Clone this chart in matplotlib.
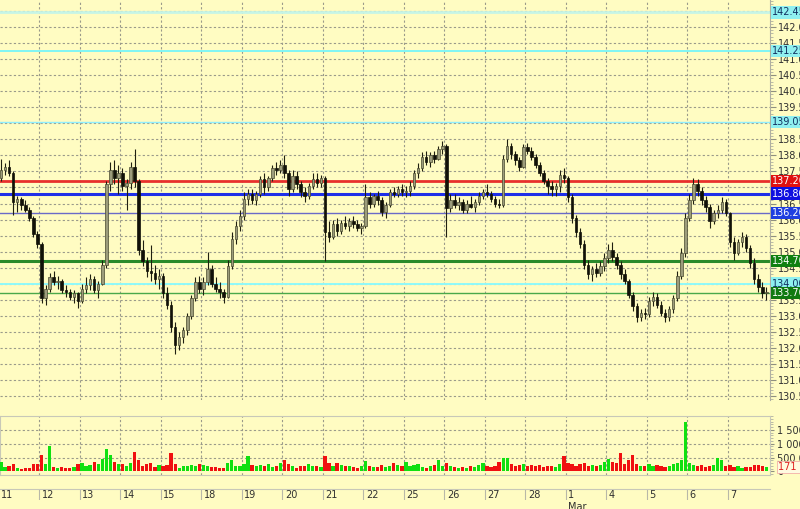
import numpy as np
import matplotlib
matplotlib.use("Agg")
import matplotlib.pyplot as plt
import matplotlib.transforms as mtransforms
from matplotlib.ticker import MultipleLocator, FuncFormatter

# day labels along the bottom strip (10 bars per day)
days = ['11', '12', '13', '14', '15', '18', '19', '20', '21', '22',
        '25', '26', '27', '28', '1', '4', '5', '6', '7']
bars_per_day = 10

# OHLC, one row per day
opens = [
    137.30, 137.55, 137.65, 137.45, 136.55, 136.65, 136.45, 136.30, 136.05, 135.55,
    135.25, 133.55, 133.85, 134.20, 134.05, 134.10, 133.80, 133.75, 133.60, 133.70,
    133.45, 133.85, 133.95, 134.15, 133.80, 134.00, 134.60, 137.10, 137.55, 137.30,
    137.45, 137.05, 137.15, 137.65, 137.20, 135.05, 134.70, 134.40, 134.35, 134.15,
    134.25, 133.70, 133.35, 132.65, 132.10, 132.35, 132.55, 133.00, 133.55, 134.05,
    133.85, 134.05, 134.45, 134.00, 133.85, 133.75, 133.60, 134.55, 135.40, 135.80,
    136.10, 136.65, 136.80, 136.60, 136.80, 137.25, 137.00, 137.30, 137.60, 137.55,
    137.70, 137.45, 136.95, 137.35, 137.10, 136.85, 136.75, 137.05, 137.25, 137.15,
    137.30, 135.60, 135.45, 135.85, 135.65, 135.90, 135.80, 135.95, 135.85, 135.75,
    135.80, 136.70, 136.50, 136.75, 136.60, 136.25, 136.45, 136.85, 136.80, 136.95,
    136.85, 136.90, 137.05, 137.45, 137.60, 137.95, 137.80, 138.00, 137.90, 138.20,
    138.30, 136.35, 136.60, 136.45, 136.55, 136.30, 136.50, 136.40, 136.55, 136.75,
    136.85, 136.80, 136.65, 136.50, 136.45, 137.90, 138.30, 138.05, 137.85, 137.65,
    138.25, 138.15, 137.95, 137.70, 137.45, 137.20, 137.05, 136.95, 137.05, 137.40,
    137.30, 136.70, 136.05, 135.60, 135.25, 134.60, 134.30, 134.45, 134.35, 134.55,
    134.80, 135.05, 134.85, 134.60, 134.30, 134.10, 133.65, 133.30, 132.95, 133.10,
    133.05, 133.45, 133.60, 133.35, 133.10, 132.95, 133.20, 133.55, 134.25, 134.95,
    136.05, 136.60, 137.10, 136.90, 136.60, 136.40, 135.95, 136.20, 136.30, 136.55,
    136.20, 135.30, 134.95, 135.30, 135.45, 135.10, 134.65, 134.15, 133.90, 133.70,
]
highs = [
    137.90, 137.75, 137.85, 137.50, 136.75, 136.70, 136.60, 136.40, 136.10, 135.65,
    135.30, 133.95, 134.35, 134.40, 134.25, 134.15, 133.95, 133.85, 133.80, 133.75,
    134.00, 134.20, 134.30, 134.25, 134.10, 134.75, 137.20, 137.80, 137.85, 137.70,
    137.60, 137.25, 137.80, 138.20, 137.25, 135.35, 134.85, 135.20, 134.60, 134.45,
    134.35, 133.90, 133.45, 132.80, 132.50, 132.65, 133.10, 133.65, 134.20, 134.25,
    134.20, 135.00, 134.60, 134.20, 134.05, 133.85, 134.75, 135.60, 135.95, 136.30,
    136.85, 136.95, 136.95, 136.90, 137.35, 137.45, 137.35, 137.70, 137.80, 137.85,
    138.00, 137.55, 137.55, 137.50, 137.20, 137.00, 137.15, 137.45, 137.45, 137.40,
    137.35, 135.95, 136.00, 136.05, 136.00, 136.10, 136.05, 136.10, 136.00, 135.90,
    137.10, 136.85, 136.80, 136.90, 136.70, 136.55, 136.95, 137.00, 137.05, 137.10,
    137.05, 137.20, 137.55, 137.75, 138.10, 138.15, 138.10, 138.15, 138.30, 138.45,
    138.35, 136.80, 136.80, 136.70, 136.65, 136.60, 136.75, 136.65, 136.85, 136.95,
    137.10, 136.90, 136.75, 136.65, 138.00, 138.50, 138.40, 138.15, 137.95, 138.35,
    138.40, 138.25, 138.05, 137.80, 137.55, 137.30, 137.20, 137.15, 137.55, 137.60,
    137.35, 136.80, 136.15, 135.75, 135.35, 134.75, 134.55, 134.65, 134.70, 134.95,
    135.25, 135.30, 134.95, 134.70, 134.45, 134.15, 133.75, 133.40, 133.20, 133.25,
    133.60, 133.75, 133.70, 133.45, 133.20, 133.30, 133.65, 134.40, 135.10, 136.20,
    136.80, 137.30, 137.25, 137.00, 136.75, 136.50, 136.30, 136.45, 136.70, 136.65,
    136.25, 135.45, 135.40, 135.60, 135.55, 135.20, 134.80, 134.30, 134.05, 133.90,
]
lows = [
    137.20, 137.40, 137.35, 136.15, 136.25, 136.30, 136.25, 135.95, 135.45, 135.10,
    133.40, 133.35, 133.75, 133.95, 133.85, 133.70, 133.60, 133.50, 133.40, 133.25,
    133.40, 133.70, 133.80, 133.70, 133.55, 133.95, 134.50, 136.90, 137.10, 136.80,
    136.90, 136.30, 136.95, 137.00, 134.90, 134.55, 134.20, 134.10, 134.00, 133.85,
    133.55, 133.20, 132.50, 131.80, 131.95, 132.15, 132.40, 132.90, 133.45, 133.70,
    133.65, 133.95, 133.90, 133.75, 133.55, 133.40, 133.55, 134.45, 135.25, 135.65,
    136.00, 136.45, 136.50, 136.45, 136.70, 136.80, 136.90, 137.20, 137.40, 137.45,
    137.30, 136.75, 136.85, 136.95, 136.70, 136.55, 136.65, 136.95, 137.00, 137.00,
    134.70, 135.30, 135.40, 135.50, 135.55, 135.70, 135.65, 135.75, 135.65, 135.55,
    135.75, 136.35, 136.40, 136.45, 136.10, 136.05, 136.40, 136.70, 136.70, 136.75,
    136.70, 136.75, 136.95, 137.30, 137.50, 137.70, 137.65, 137.75, 137.85, 138.05,
    135.45, 136.25, 136.35, 136.30, 136.20, 136.20, 136.35, 136.25, 136.45, 136.65,
    136.70, 136.55, 136.40, 136.35, 136.40, 137.80, 137.90, 137.70, 137.50, 137.60,
    138.05, 137.85, 137.60, 137.35, 137.10, 136.80, 136.75, 136.75, 136.85, 137.15,
    136.55, 135.90, 135.45, 135.10, 134.45, 134.15, 134.10, 134.20, 134.25, 134.40,
    134.65, 134.70, 134.45, 134.15, 134.00, 133.55, 133.15, 132.80, 132.85, 132.90,
    132.95, 133.30, 133.25, 133.00, 132.80, 132.85, 133.10, 133.45, 134.15, 134.85,
    135.95, 136.50, 136.75, 136.45, 136.25, 135.75, 135.85, 136.05, 136.20, 136.10,
    135.15, 134.75, 134.90, 135.15, 135.00, 134.50, 134.00, 133.75, 133.55, 133.50,
]
closes = [
    137.55, 137.65, 137.45, 136.55, 136.65, 136.45, 136.30, 136.05, 135.55, 135.25,
    133.55, 133.85, 134.20, 134.05, 134.10, 133.80, 133.75, 133.60, 133.70, 133.45,
    133.85, 133.95, 134.15, 133.80, 134.00, 134.60, 137.10, 137.55, 137.30, 137.45,
    137.05, 137.15, 137.65, 137.20, 135.05, 134.70, 134.40, 134.35, 134.15, 134.25,
    133.70, 133.35, 132.65, 132.10, 132.35, 132.55, 133.00, 133.55, 134.05, 133.85,
    134.05, 134.45, 134.00, 133.85, 133.75, 133.60, 134.55, 135.40, 135.80, 136.10,
    136.65, 136.80, 136.60, 136.80, 137.25, 137.00, 137.30, 137.60, 137.55, 137.70,
    137.45, 136.95, 137.35, 137.10, 136.85, 136.75, 137.05, 137.25, 137.15, 137.30,
    135.60, 135.45, 135.85, 135.65, 135.90, 135.80, 135.95, 135.85, 135.75, 135.80,
    136.70, 136.50, 136.75, 136.60, 136.25, 136.45, 136.85, 136.80, 136.95, 136.85,
    136.90, 137.05, 137.45, 137.60, 137.95, 137.80, 138.00, 137.90, 138.20, 138.30,
    136.35, 136.60, 136.45, 136.55, 136.30, 136.50, 136.40, 136.55, 136.75, 136.85,
    136.80, 136.65, 136.50, 136.45, 137.90, 138.30, 138.05, 137.85, 137.65, 138.25,
    138.15, 137.95, 137.70, 137.45, 137.20, 137.05, 136.95, 137.05, 137.40, 137.30,
    136.70, 136.05, 135.60, 135.25, 134.60, 134.30, 134.45, 134.35, 134.55, 134.80,
    135.05, 134.85, 134.60, 134.30, 134.10, 133.65, 133.30, 132.95, 133.10, 133.05,
    133.45, 133.60, 133.35, 133.10, 132.95, 133.20, 133.55, 134.25, 134.95, 136.05,
    136.60, 137.10, 136.90, 136.60, 136.40, 135.95, 136.20, 136.30, 136.55, 136.20,
    135.30, 134.95, 135.30, 135.45, 135.10, 134.65, 134.15, 133.90, 133.70, 133.75,
]
# volume in thousands
volumes = [
    350, 150, 180, 250, 120, 100, 130, 120, 280, 250,
    600, 250, 900, 150, 130, 160, 110, 140, 160, 280,
    300, 200, 220, 330, 250, 450, 820, 600, 350, 280,
    250, 200, 320, 700, 420, 180, 250, 300, 150, 220,
    200, 220, 680, 250, 120, 180, 200, 220, 180, 250,
    230, 200, 150, 160, 130, 140, 300, 420, 200, 200,
    260, 550, 220, 180, 240, 200, 280, 160, 200, 300,
    420, 280, 180, 140, 180, 200, 260, 200, 180, 170,
    550, 300, 200, 320, 220, 200, 180, 160, 140, 180,
    380, 200, 150, 160, 240, 170, 200, 300, 220, 190,
    330, 200, 240, 250, 160, 140, 200, 240, 420, 200,
    300, 200, 160, 140, 160, 140, 200, 170, 220, 320,
    200, 150, 180, 330, 480, 500, 260, 200, 220, 280,
    200, 240, 190, 220, 160, 180, 200, 150, 280, 550,
    300, 280, 200, 250, 300, 200, 240, 180, 230, 330,
    460, 350, 300, 650, 280, 420, 600, 250, 200, 180,
    250, 180, 220, 200, 160, 200, 280, 300, 400, 1800,
    300, 240, 200, 230, 170, 200, 240, 480, 400, 200,
    220, 160, 200, 140, 150, 170, 230, 240, 210, 171.419,
]

# horizontal levels: price, line colour, width, label bg, label text colour
levels = [142.4525, 141.2518, 139.0500, 137.2004, 136.8090, 136.2050, 134.7050, 134.0053, 133.7030]
level_colors = ['#c6f5e6', '#7ff5f5', '#8feeff', '#e8302c', '#1f2fe8', '#6a6ac8', '#2a8a2a', '#8ffafa', '#4aa84a']
level_widths = [2.0, 1.4, 1.0, 2.0, 2.2, 1.0, 2.2, 1.4, 1.0]
label_bg = ['#8ff0f0', '#8ff0f0', '#8ff0f0', '#e01010', '#1010e0', '#1f3fe0', '#108010', '#8ff0f0', '#107a10']
label_fg = ['#103060', '#103060', '#103060', 'white', 'white', 'white', 'white', '#103060', 'white']

BG = '#fffcc2'
GRID = '#9a9a8a'

o = np.array(opens)
h = np.array(highs)
l = np.array(lows)
c = np.array(closes)
v = np.array(volumes) / 1000.0
x = np.arange(len(c))
up = c >= o
xlim = (-0.25, 189.9)
day_edges = np.arange(1, len(days)) * bars_per_day - 0.5

fig = plt.figure(figsize=(8, 5.09), dpi=100, facecolor=BG)
ax = fig.add_axes([0.0, 1 - 400 / 509, 770 / 800, 400 / 509])
axv = fig.add_axes([0.0, 1 - 475 / 509, 770 / 800, 59 / 509])
axd = fig.add_axes([0.0, 1 - 500 / 509, 770 / 800, 11 / 509])

# ---- price panel
ax.set_facecolor(BG)
ax.set_xlim(*xlim)
ax.set_ylim(130.38, 142.84)
for yv in np.arange(130.5, 143, 0.5):
    ax.axhline(yv, color=GRID, lw=0.8, ls=(0, (2, 2)), zorder=1)
for xe in day_edges:
    ax.axvline(xe, color=GRID, lw=0.8, ls=(0, (2, 2)), zorder=1)

for i, lv in enumerate(levels):
    ax.axhline(lv, color=level_colors[i], lw=level_widths[i], zorder=2)

ax.vlines(x, l, h, color='#202010', lw=0.8, zorder=3)
body_lo = np.minimum(o, c)
body_h = np.maximum(np.abs(c - o), 0.03)
ax.bar(x[up], body_h[up], bottom=body_lo[up], width=0.62, color='#9c9c7c',
       edgecolor='#4a4a30', lw=0.5, zorder=4)
ax.bar(x[~up], body_h[~up], bottom=body_lo[~up], width=0.62, color='#111108',
       edgecolor='#111108', lw=0.5, zorder=4)

for s in ['left', 'top', 'bottom']:
    ax.spines[s].set_visible(False)
ax.spines['right'].set_color('#b0b0a0')
ax.yaxis.tick_right()
ax.yaxis.set_major_locator(MultipleLocator(0.5))
ax.yaxis.set_minor_locator(MultipleLocator(0.1))
ax.yaxis.set_major_formatter(FuncFormatter(lambda val, pos: f'{val:.1f}'))
ax.tick_params(axis='y', which='major', length=4, color='#909080', labelsize=7,
               labelcolor='#303030', pad=2)
ax.tick_params(axis='y', which='minor', length=2, color='#b0b0a0')
ax.set_xticks([])

trans = mtransforms.blended_transform_factory(ax.transAxes, ax.transData)
for i, lv in enumerate(levels):
    ax.text(1.003, lv, f'{lv:.4f}', transform=trans, ha='left', va='center',
            fontsize=7, color=label_fg[i], zorder=10, clip_on=False,
            bbox=dict(boxstyle='square,pad=0.12', fc=label_bg[i], ec='none'))

# ---- volume panel
axv.set_facecolor(BG)
axv.set_xlim(*xlim)
axv.set_ylim(-0.13, 2.0)
for yv in [0.5, 1.0, 1.5]:
    axv.axhline(yv, color=GRID, lw=0.8, ls=(0, (2, 2)), zorder=1)
for xe in day_edges:
    axv.axvline(xe, color=GRID, lw=0.8, ls=(0, (2, 2)), zorder=1)
axv.bar(x[up], v[up], width=0.8, color='#10e010', zorder=3)
axv.bar(x[~up], v[~up], width=0.8, color='#f01010', zorder=3)
for s in axv.spines.values():
    s.set_color('#c8c8b8')
axv.yaxis.tick_right()
axv.set_yticks([0, 0.5, 1.0, 1.5])
axv.set_yticklabels(['0', '500 000', '1 000 000', '1 500 000'])
axv.yaxis.set_minor_locator(MultipleLocator(0.1))
axv.tick_params(axis='y', which='major', length=3, color='#909080', labelsize=7,
                labelcolor='#303030', pad=2)
axv.tick_params(axis='y', which='minor', length=2, color='#b0b0a0')
axv.set_xticks([])
last_vol = volumes[-1] * 1000
axv.text(1.01, v[-1], f'{last_vol:,.0f}'.replace(',', ' '), transform=axv.get_yaxis_transform(),
         ha='left', va='center', fontsize=7, color='#e02020', zorder=10, clip_on=False,
         bbox=dict(boxstyle='square,pad=0.1', fc='#fffae0', ec='#f0a0a0', lw=0.5))

# ---- date strip
axd.set_facecolor(BG)
axd.set_xlim(*xlim)
axd.set_ylim(0, 1)
for s in ['left', 'right', 'bottom']:
    axd.spines[s].set_visible(False)
axd.spines['top'].set_color('#c8c8b8')
axd.set_xticks([])
axd.set_yticks([])
for xe in day_edges:
    axd.vlines(xe, 0, 1, color='#b8b8a8', lw=0.8)
starts = np.concatenate([[-0.5], day_edges])
for i, lab in enumerate(days):
    axd.text(starts[i] + 0.6, 0.45, lab, ha='left', va='center', fontsize=7, color='#303030')
axd.text(starts[days.index('1')] + 0.6, -0.6, 'Mar', ha='left', va='center',
         fontsize=7, color='#303030', clip_on=False)

fig.savefig('out.png', dpi=100, facecolor=BG)
